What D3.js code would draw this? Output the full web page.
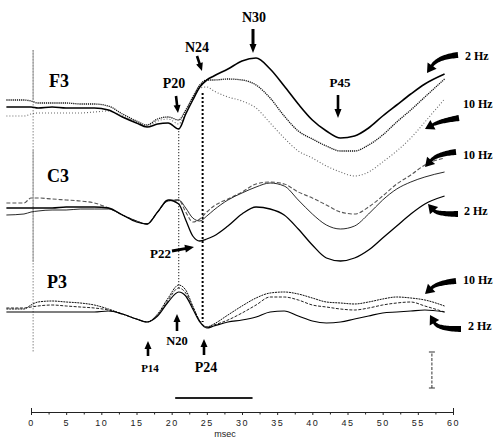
<!DOCTYPE html>
<html><head><meta charset="utf-8">
<script src="https://cdn.jsdelivr.net/npm/d3@7"></script>
<style>body{margin:0;background:#fff}</style>
</head><body>
<svg id="c" width="500" height="445"></svg>
<script>
// ---------------- DATA ----------------
// sample times (ms after stimulus)
const times = [-3.5,-1,0,1,3,5,7,9,11,13, 15,16.5,18,19.5,21,22,23,24,25,26, 28,30,32,34,36,38,40,42,44,46, 48,50,52,54,56,58.8];
// amplitudes (arbitrary units, positive = upward / negative polarity)
const f3_2Hz  = [0,0,0,-0.5,0,-0.5,-0.5,-0.5,-1.5,-5, -8,-10,-8.5,-8,-11,-3.5,3.5,10,13.5,15.5, 19,23,24.5,19,10.5,1.5,-6.5,-12,-15.5,-14.5, -10.5,-4.5,1,6.5,11.5,16.5];
const f3_5Hz  = [3.5,3.5,3,2,2,2,1.5,1.5,0.5,-3.5, -7,-9,-6,-5,-6.5,-1.5,5,11,13.5,13.5, 14,13.5,11,4.5,-4.5,-12,-16,-19.5,-22,-22, -19,-14,-7.5,-1.5,5,14];
const f3_10Hz = [-4.5,-4.5,-3.5,-3,-3,-3,-3,-2.5,-2,-4.5, -7.5,-9.5,-7,-6,-8.5,-2.5,4.5,9.5,10,8, 5,3,-0.5,-8,-15.5,-22,-25.5,-29.5,-32.5,-34.5, -32.5,-27.5,-22,-15.5,-7.5,4];
const c3_2Hz  = [0,0,0,0,0,0.5,0.5,0.5,0,-3.5, -7,-8,-2,4,2,-6,-14,-16.5,-15.5,-14, -9,-3,0.5,-0.5,-3.5,-10.5,-18.5,-25,-26.5,-25, -21,-15,-9,-3,2,6];
const c3_5Hz  = [-3.5,-3,-2,-1.5,-1,-1,-0.5,-0.5,-0.5,-3.5, -6.5,-8,-2,3.5,4,0,-5,-6.5,-4,-1, 4,7.5,10.5,12.5,11,4,-3,-8.5,-10.5,-9, -3,4,9.5,13,15.5,18];
const c3_10Hz = [2.5,2.5,5,5,4.5,4,3.5,2.5,0,-3.5, -6.5,-8,-2,4,4,-2,-7,-5.5,-2,1, 4.5,8,12,13,12,8,5,1.5,-2,-3, 0.5,6,12,16.5,21.5,25];
const p3_2Hz  = [0,0,0,0,0,0,0,0,0.5,-1, -3.5,-5,-2,5,10,8,1.5,-5,-8,-7, -5,-4,-2.5,0,0.5,-2,-4.5,-5.5,-5,-3.5, -2,-0.5,0,0.5,1,0];
const p3_5Hz  = [2,2,2.5,3,3.5,3,2.5,2,1,-1, -3.5,-5,-1.5,6,12,9.5,2.5,-4.5,-7.5,-6.5, -4,-0.5,3.5,7.5,7.5,6,3.5,2.5,1.5,1, 2,3.5,4.5,5,3,0];
const p3_10Hz = [1.5,1.5,3.5,5,5.5,5,4.5,3.5,1.5,-1, -3.5,-5,-1,7,13.5,11,3,-4.5,-7.5,-6, -1.5,3,7,9.5,10,9,7,5,4.5,4, 5,6.5,7.5,7,6,3];

const channels = ["F3","C3","P3"];
const xTicks = [0,5,10,15,20,25,30,35,40,45,50,55,60];
const xMinorTicks = [2.5,7.5,12.5,17.5,22.5,27.5,32.5,37.5,42.5,47.5,52.5,57.5];
const stimTime = 0.3;
const latencyLines = [21.0, 24.4];     // ms
const timeBar = [20.5, 31.5];          // ms
const calibBar = 18;                   // amplitude units

// ---------------- LAYOUT ----------------
const svg = d3.select("#c");
const x = d3.scaleLinear().domain([0,60]).range([31,453]);
const base = {F3:107, C3:208, P3:312};
const pxPerUnit = 2;
const yScale = {};
channels.forEach(ch => yScale[ch] = d3.scaleLinear().domain([0,1]).range([base[ch], base[ch]-pxPerUnit]));

const series = [
  {ch:"F3", v:f3_10Hz, stroke:"#666", w:1.1, dash:"1,2"},
  {ch:"F3", v:f3_5Hz,  stroke:"#111", w:1.3, dash:"1.2,0.9"},
  {ch:"F3", v:f3_2Hz,  stroke:"#000", w:1.6, dash:null},
  {ch:"C3", v:c3_10Hz, stroke:"#555", w:1.1, dash:"4,2"},
  {ch:"C3", v:c3_5Hz,  stroke:"#111", w:0.9, dash:null},
  {ch:"C3", v:c3_2Hz,  stroke:"#000", w:1.3, dash:null},
  {ch:"P3", v:p3_5Hz,  stroke:"#222", w:1.0, dash:"3,1.5"},
  {ch:"P3", v:p3_10Hz, stroke:"#111", w:1.0, dash:"2,0.8"},
  {ch:"P3", v:p3_2Hz,  stroke:"#000", w:1.2, dash:null}
];

// stimulus line
svg.append("line").attr("x1",x(stimTime)).attr("x2",x(stimTime)).attr("y1",50).attr("y2",353)
  .attr("stroke","#888").attr("stroke-width",1).attr("stroke-dasharray","1.5,1.5");
[[50,100],[150,262]].forEach(s=>svg.append("line").attr("x1",x(stimTime)).attr("x2",x(stimTime))
  .attr("y1",s[0]).attr("y2",s[1]).attr("stroke","#999").attr("stroke-width",1));

// latency dotted lines
svg.append("line").attr("x1",x(latencyLines[0])).attr("x2",x(latencyLines[0])).attr("y1",128).attr("y2",290)
  .attr("stroke","#444").attr("stroke-width",1.2).attr("stroke-dasharray","1.3,1.7");
svg.append("line").attr("x1",x(latencyLines[1])).attr("x2",x(latencyLines[1])).attr("y1",93).attr("y2",322)
  .attr("stroke","#000").attr("stroke-width",2).attr("stroke-dasharray","2,2");

// traces
series.forEach(s=>{
  const ys = yScale[s.ch];
  const line = d3.line().x((d,i)=>x(times[i])).y(d=>ys(d)).curve(d3.curveMonotoneX);
  svg.append("path").attr("d",line(s.v)).attr("fill","none").attr("stroke",s.stroke)
    .attr("stroke-width",s.w).attr("stroke-dasharray",s.dash).attr("stroke-linejoin","round");
});

// arrows
function straightArrow(x1,y1,x2,y2,sw=2.6,hw=7,hl=8){
  const dx=x2-x1, dy=y2-y1, L=Math.hypot(dx,dy), ux=dx/L, uy=dy/L, nx=-uy, ny=ux;
  const bx=x2-ux*hl, by=y2-uy*hl;
  const p=[[x1+nx*sw/2,y1+ny*sw/2],[bx+nx*sw/2,by+ny*sw/2],[bx+nx*hw/2,by+ny*hw/2],[x2,y2],
           [bx-nx*hw/2,by-ny*hw/2],[bx-nx*sw/2,by-ny*sw/2],[x1-nx*sw/2,y1-ny*sw/2]];
  svg.append("path").attr("d","M"+p.map(q=>q.join(",")).join("L")+"Z").attr("fill","#000");
}
function curvedArrow(tail,ctrl,tip,w0=6,w1=3,hw=11,hl=9){
  const dx=tip[0]-ctrl[0], dy=tip[1]-ctrl[1], L=Math.hypot(dx,dy), ux=dx/L, uy=dy/L;
  const hb=[tip[0]-ux*hl, tip[1]-uy*hl];
  const N=24, left=[], right=[];
  for(let i=0;i<=N;i++){
    const t=i/N, a=(1-t)*(1-t), b=2*(1-t)*t, c=t*t;
    const px=a*tail[0]+b*ctrl[0]+c*hb[0], py=a*tail[1]+b*ctrl[1]+c*hb[1];
    const tx=2*(1-t)*(ctrl[0]-tail[0])+2*t*(hb[0]-ctrl[0]);
    const ty=2*(1-t)*(ctrl[1]-tail[1])+2*t*(hb[1]-ctrl[1]);
    const tl=Math.hypot(tx,ty)||1, nx=-ty/tl, ny=tx/tl, w=(w0+(w1-w0)*t)/2;
    left.push([px+nx*w,py+ny*w]); right.push([px-nx*w,py-ny*w]);
  }
  const nx=-uy, ny=ux;
  const head=[[hb[0]+nx*hw/2,hb[1]+ny*hw/2],tip,[hb[0]-nx*hw/2,hb[1]-ny*hw/2]];
  const pts=left.concat(head).concat(right.reverse());
  svg.append("path").attr("d","M"+pts.map(q=>q.join(",")).join("L")+"Z").attr("fill","#000");
}

straightArrow(253,29,253,53,3,7,9);     // N30
straightArrow(197,56,202,71,2.6,7,8);   // N24
straightArrow(176,96,178,113,2.6,7,8);  // P20
straightArrow(338,95,338,118,2.6,7,9);  // P45
straightArrow(172,251,194,247,3,8,9);   // P22
straightArrow(177,331,177,314,2.6,7,8); // N20
straightArrow(148,356,148,341,2.6,7,8); // P14
straightArrow(204,355,204,339,2.6,7,8); // P24

curvedArrow([458,55],[438,57],[427,73]);
curvedArrow([459,118],[440,121],[425,129]);
curvedArrow([456,152],[437,154],[425,167]);
curvedArrow([458,214],[437,214],[428,204]);
curvedArrow([456,281],[437,283],[425,294]);
curvedArrow([461,329],[438,329],[430,315]);

// labels
const serif = "'Liberation Serif','Times New Roman',serif";
const labels = [
  {t:"F3", x:49, y:87, s:18, a:"start"},
  {t:"C3", x:47, y:182, s:18, a:"start"},
  {t:"P3", x:47, y:288, s:18, a:"start"},
  {t:"N30", x:254, y:22, s:14, a:"middle"},
  {t:"N24", x:197, y:52, s:14, a:"middle"},
  {t:"P20", x:174, y:88, s:14, a:"middle"},
  {t:"P45", x:340, y:87, s:13, a:"middle"},
  {t:"P22", x:150, y:258, s:13, a:"start"},
  {t:"N20", x:177, y:345, s:12.5, a:"middle"},
  {t:"P14", x:150, y:372, s:11, a:"middle"},
  {t:"P24", x:206, y:372, s:14, a:"middle"},
  {t:"2 Hz", x:465, y:60, s:12, a:"start"},
  {t:"10 Hz", x:463, y:108, s:12, a:"start"},
  {t:"10 Hz", x:463, y:159, s:12, a:"start"},
  {t:"2 Hz", x:464, y:215, s:12, a:"start"},
  {t:"10 Hz", x:463, y:284, s:12, a:"start"},
  {t:"2 Hz", x:468, y:330, s:12, a:"start"}
];
labels.forEach(l=>svg.append("text").attr("x",l.x).attr("y",l.y).attr("text-anchor",l.a)
  .attr("font-family",serif).attr("font-weight","bold").attr("font-size",l.s).attr("fill","#000").text(l.t));

// calibration bar
const cy = d3.scaleLinear().domain([0,1]).range([388,388-pxPerUnit]);
const cx = x(57);
svg.append("line").attr("x1",cx).attr("x2",cx).attr("y1",cy(0)).attr("y2",cy(calibBar))
  .attr("stroke","#333").attr("stroke-width",1).attr("stroke-dasharray","3,1.5");
[0,calibBar].forEach(v=>svg.append("line").attr("x1",cx-3).attr("x2",cx+3).attr("y1",cy(v)).attr("y2",cy(v))
  .attr("stroke","#333").attr("stroke-width",1));

// time bar
svg.append("line").attr("x1",x(timeBar[0])).attr("x2",x(timeBar[1])).attr("y1",398).attr("y2",398)
  .attr("stroke","#222").attr("stroke-width",2);

// x axis
const gx = svg.append("g").attr("transform","translate(0,412)")
  .call(d3.axisBottom(x).tickValues(xTicks).tickSize(3).tickSizeOuter(-4).tickPadding(5).tickFormat(d3.format("d")));
const gm = svg.append("g").attr("transform","translate(0,412)")
  .call(d3.axisBottom(x).tickValues(xMinorTicks).tickSize(2.5).tickFormat(""));
gm.select(".domain").remove();
svg.selectAll("g .tick line").attr("stroke","#222");
gx.select(".domain").attr("stroke","#222");
gx.selectAll("text").attr("font-family","'Liberation Sans',Arial,sans-serif").attr("font-size",9)
  .attr("fill","#222").attr("letter-spacing","1.5px");
svg.append("text").attr("x",225).attr("y",437).attr("text-anchor","middle")
  .attr("font-family","'Liberation Sans',Arial,sans-serif").attr("font-size",9).attr("fill","#222").text("msec");
</script>
</body></html>
